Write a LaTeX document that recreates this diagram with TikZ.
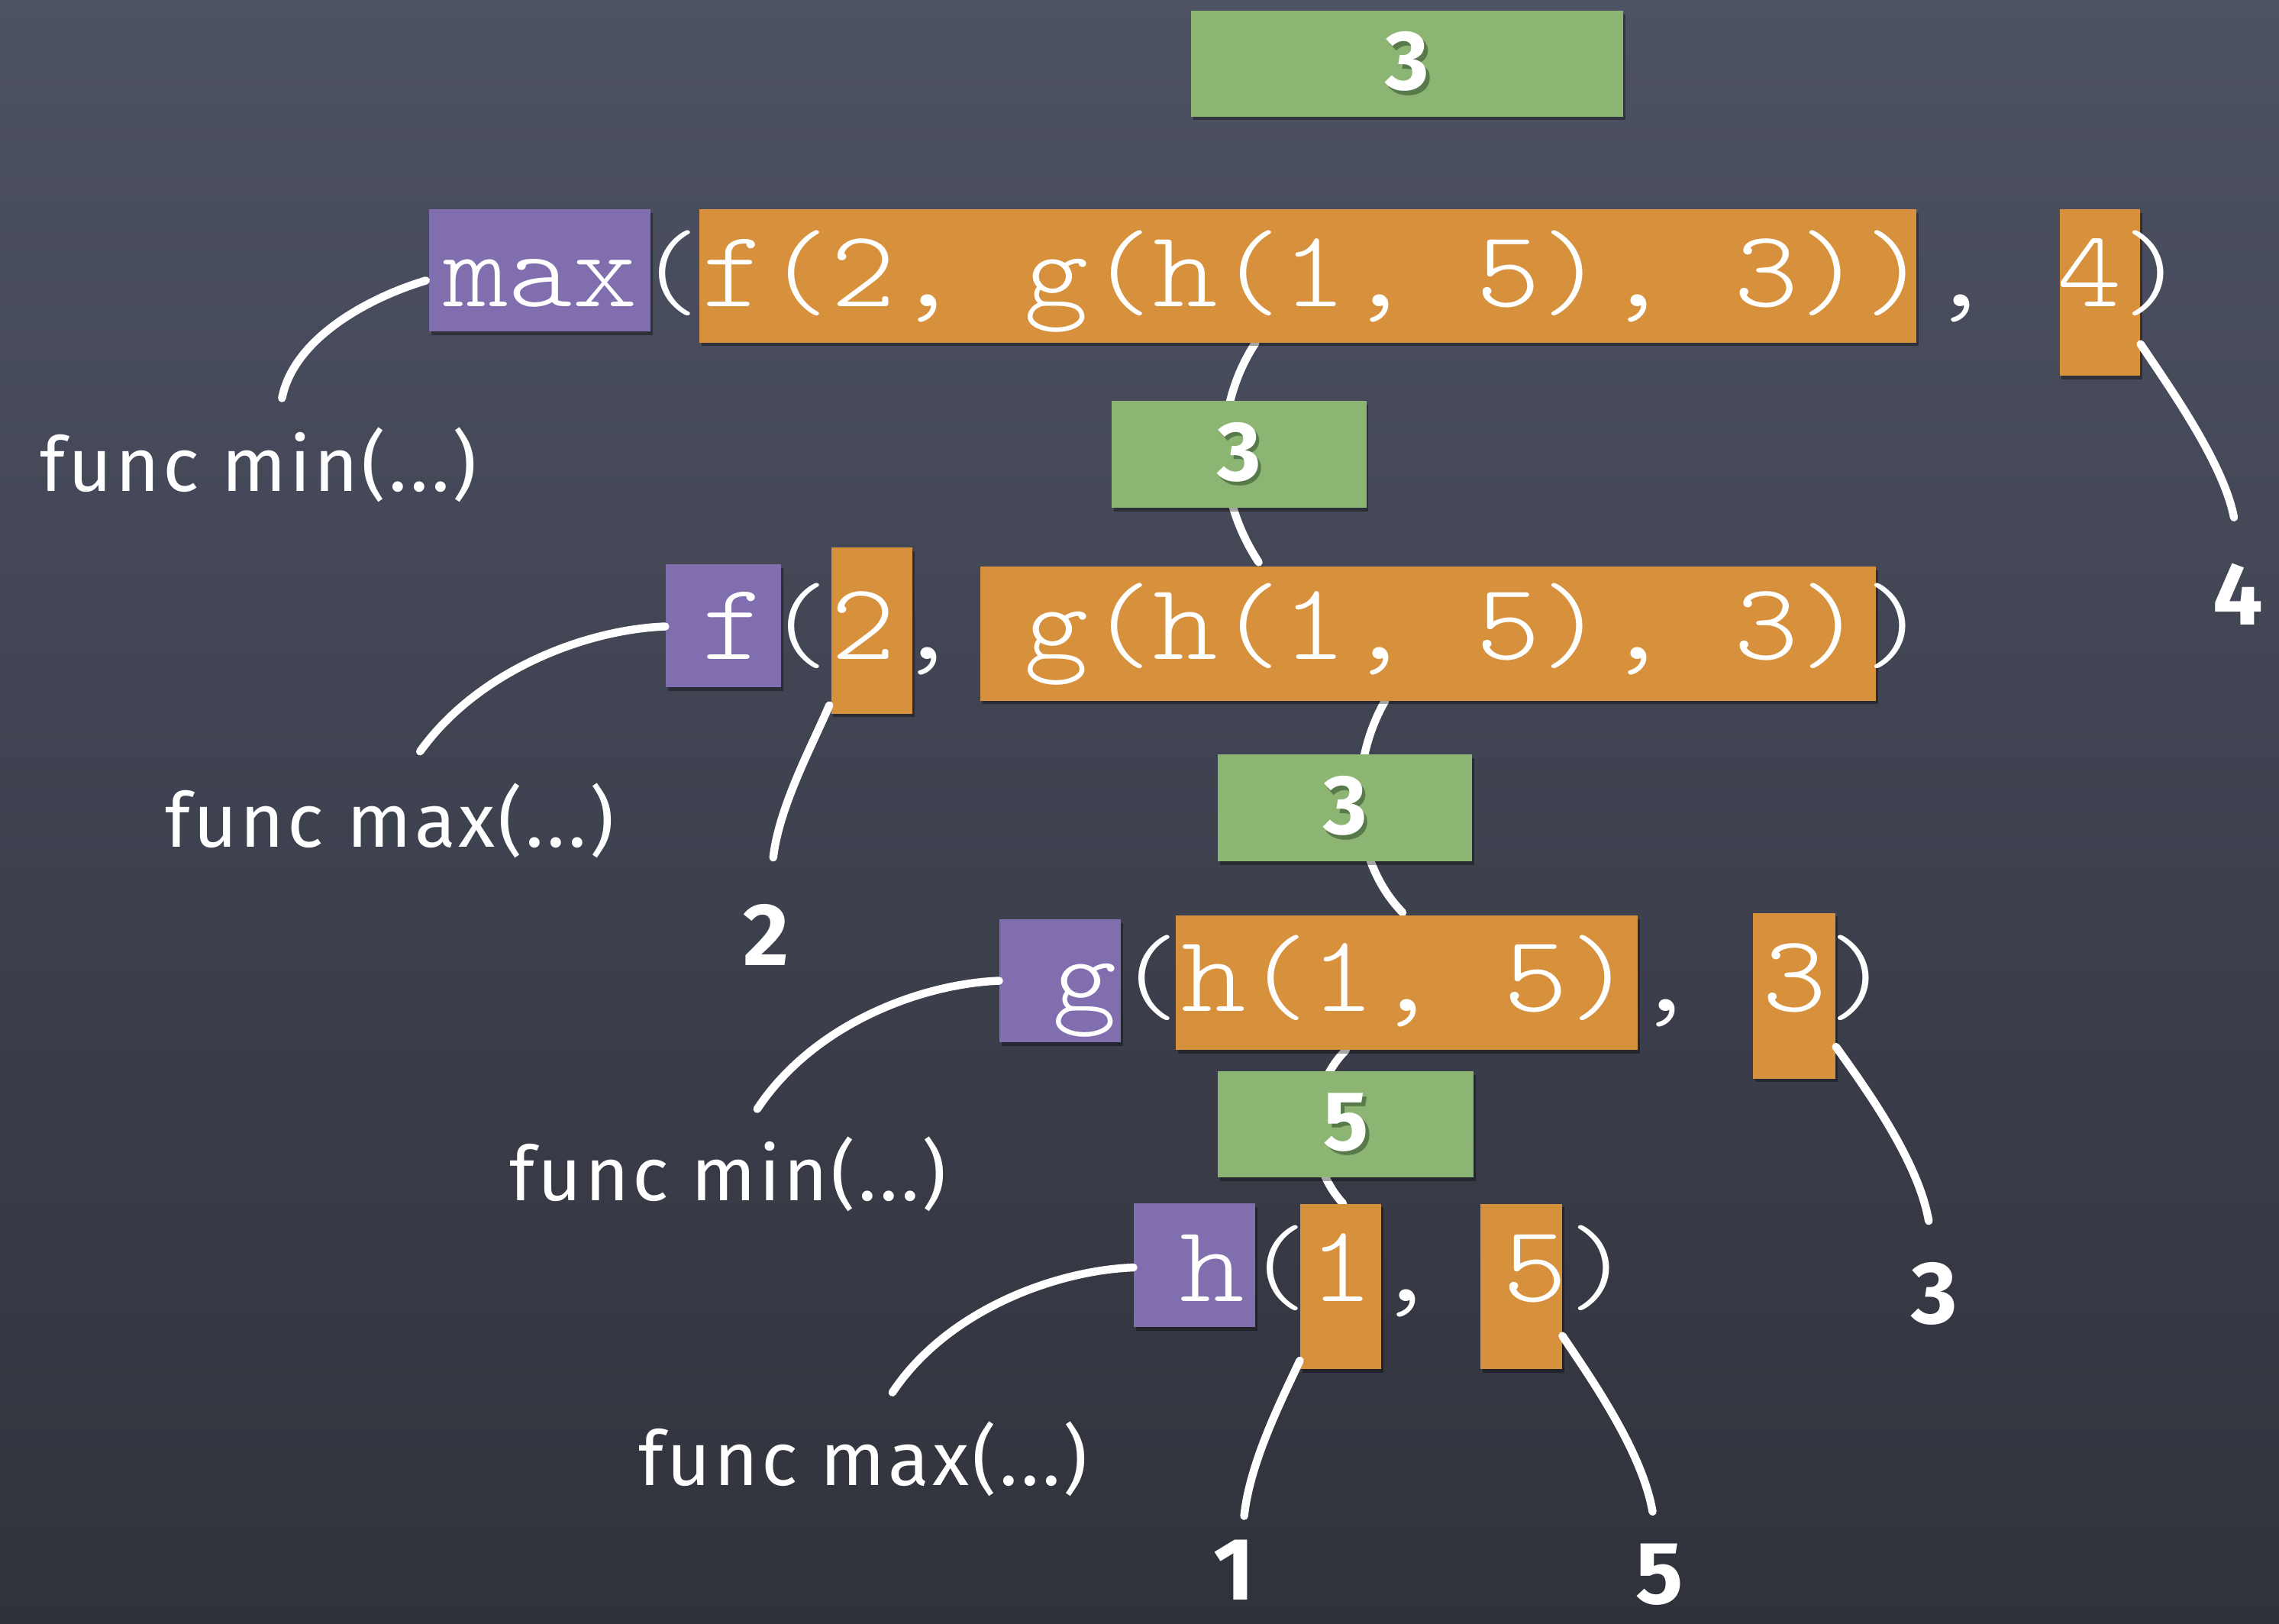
\documentclass[tikz,border=0pt]{standalone}
\usepackage{fontspec}
\usepackage{graphicx}
\usetikzlibrary{calc,shadows}

\newfontfamily\chalkfont[LetterSpace=4]{Fira Sans}
\newfontfamily\chalkdigitfont{Fira Sans}
\newfontfamily\codefont{Latin Modern Mono Light}

\definecolor{boardtop}{HTML}{4D5264}
\definecolor{boardmid}{HTML}{424654}
\definecolor{boardbot}{HTML}{30323B}
\definecolor{fnpurple}{HTML}{806EAF}
\definecolor{argorange}{HTML}{D7913C}
\definecolor{valgreen}{HTML}{8CB473}
\definecolor{valshadow}{HTML}{587A4A}

\pgfdeclarelayer{board}
\pgfdeclarelayer{under}
\pgfsetlayers{board,under,main}

% white chalk digit with a soft dark copy behind it
\newcommand\glow[1]{\makebox[0pt][l]{\hspace{2.5pt}\raisebox{-3pt}{\textcolor{valshadow}{#1}}}#1}

\tikzset{
  tile/.style={rectangle, inner sep=0pt, draw=none,
    drop shadow={shadow xshift=1.5pt, shadow yshift=-2.5pt, opacity=0.35, fill=black}},
  fnbox/.style={tile, fill=fnpurple},
  argbox/.style={tile, fill=argorange},
  valbox/.style={tile, fill=valgreen, text=white,
    font=\chalkdigitfont\bfseries\fontsize{58}{58}\selectfont},
  code/.style={anchor=base west, inner sep=0pt, text=white,
    font=\codefont\fontsize{75}{75}\selectfont},
  note/.style={anchor=base, inner sep=0pt, text=white,
    font=\chalkfont\fontsize{52}{52}\selectfont},
  leaf/.style={inner sep=0pt, text=white,
    font=\chalkdigitfont\bfseries\fontsize{61}{61}\selectfont},
  chalk/.style={draw=white, line width=5.5pt, line cap=round},
}

\newcommand\codeline[1]{\scalebox{1.1276}[1]{#1}}

\begin{document}
\begin{tikzpicture}[x=1pt, y=-1pt]
\useasboundingbox (0,0) rectangle (1568,1117);

% ---- value tiles (results)
\node[valbox, minimum width=297.3pt, minimum height=72.8pt] (G1) at (968.15,43.8) {\raisebox{-4pt}{\glow{3}}};
\node[valbox, minimum width=175pt, minimum height=73.5pt] (G2) at (852.5,312.5) {\raisebox{-4pt}{\glow{3}}};
\node[valbox, minimum width=175pt, minimum height=73.5pt] (G3) at (925.5,555.75) {\raisebox{-4pt}{\glow{3}}};
\node[valbox, minimum width=176pt, minimum height=73pt] (G4) at (926,773.5) {\raisebox{-5pt}{\glow{5}}};

% ---- function name tiles
\node[fnbox, minimum width=152.6pt, minimum height=84pt] (Pmax) at (371.5,186) {};
\node[fnbox, minimum width=79.7pt, minimum height=84.6pt] (Pf) at (497.75,430.5) {};
\node[fnbox, minimum width=83.4pt, minimum height=84.5pt] (Pg) at (729.3,674.75) {};
\node[fnbox, minimum width=83.6pt, minimum height=85pt] (Ph) at (821.8,870.5) {};

% ---- argument tiles
\node[argbox, minimum width=837.6pt, minimum height=91.7pt] (O1a) at (899.8,189.85) {};
\node[argbox, minimum width=55.5pt, minimum height=114.5pt] (O1b) at (1444.75,201.25) {};
\node[argbox, minimum width=55.8pt, minimum height=114.5pt] (O2a) at (599.7,433.75) {};
\node[argbox, minimum width=616.2pt, minimum height=92pt] (O2b) at (982.4,436) {};
\node[argbox, minimum width=318pt, minimum height=92.3pt] (O3a) at (968,676.15) {};
\node[argbox, minimum width=57pt, minimum height=114pt] (O3b) at (1234.5,685) {};
\node[argbox, minimum width=56pt, minimum height=113.7pt] (O4a) at (922.5,885) {};
\node[argbox, minimum width=56.3pt, minimum height=113.7pt] (O4b) at (1046.6,885) {};

% ---- code lines
\node[code] (T1) at (305,211) {\codeline{max(f(2, g(h(1, 5), 3)), 4)}};
\node[code] (T2) at (482.6,453.5) {\codeline{f(2, g(h(1, 5), 3))}};
\node[code] (T3) at (723.8,695.5) {\codeline{g(h(1, 5), 3)}};
\node[code] (T4) at (811.8,895.6) {\codeline{h(1, 5)}};

% ---- chalk notes
\node[note] (L1) at (178,338) {func min(...)};
\node[note] (L2) at (268,583) {func max(...)};
\node[note] (L3) at (501,826) {func min(...)};
\node[note] (L4) at (594,1022) {func max(...)};

\node[leaf] (D2) at (527,643) {2};
\node[leaf] (D4) at (1540,409) {4};
\node[leaf] (D3) at (1331,890) {3};
\node[leaf] (D1) at (849,1080) {1};
\node[leaf] (D5) at (1142,1083) {5};

% ---- chalk strokes to the notes
\draw[chalk] ($(Pmax.west)+(-2,7)$) .. controls +(-40,12) and +(8,-41) .. ($(L1.base)+(16,-64)$);
\draw[chalk] ($(Pf.west)+(0,0.5)$) .. controls +(-53,2) and +(41,-57) .. ($(L2.base)+(21,-66)$);
\draw[chalk] (Pg.west) .. controls +(-53,2) and +(39,-59) .. ($(L3.base)+(20,-63)$);
\draw[chalk] ($(Ph.west)+(0,1.5)$) .. controls +(-53,2) and +(38,-57) .. ($(L4.base)+(20,-64)$);

\draw[chalk] ($(O2a.south west)+(-1,-6)$) .. controls +(-12,28) and +(4,-35) .. ($(D2.center)+(5,-53)$);
\draw[chalk] ($(O1b.south east)+(0,-22)$) .. controls +(23,34) and +(-7,-36) .. ($(D4.center)+(-3,-53)$);
\draw[chalk] ($(O3b.south east)+(0,-22)$) .. controls +(23,32) and +(-7,-40) .. ($(D3.center)+(-4,-50)$);
\draw[chalk] ($(O4a.south west)+(0,-6)$) .. controls +(-11,24) and +(4,-38) .. ($(D1.center)+(7,-37)$);
\draw[chalk] ($(O4b.south east)+(0,-23)$) .. controls +(23,34) and +(-7,-40) .. ($(D5.center)+(-5,-43)$);

% ---- evaluation strokes, running behind the value tiles
\begin{pgfonlayer}{under}
\draw[chalk] ($(O1a.south)+(-36,0)$) .. controls +(-29,44) and +(-31,-47) .. ($(O2b.north)+(-116.4,-3)$);
\draw[chalk] ($(O2b.south)+(-29.4,0)$) .. controls +(-25,43) and +(-37,-38) .. ($(O3a.north)+(-3,-2)$);
\draw[chalk] ($(O3a.south)+(-42,0)$) .. controls +(-28,28) and +(-26,-28) .. ($(O4a.north)+(1.5,0)$);
\end{pgfonlayer}

% ---- chalkboard
\begin{pgfonlayer}{board}
\shade[top color=boardtop, middle color=boardmid, bottom color=boardbot] (0,0) rectangle (1568,1117);
\end{pgfonlayer}
\end{tikzpicture}
\end{document}
